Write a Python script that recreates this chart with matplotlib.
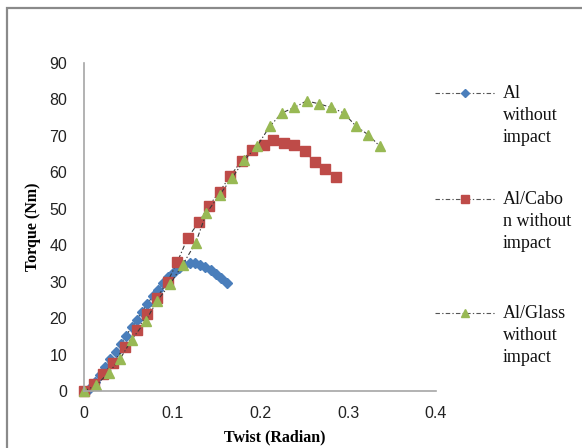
import matplotlib
matplotlib.use("Agg")
import matplotlib.pyplot as plt
from matplotlib.lines import Line2D
from matplotlib.patches import Rectangle

# twist (rad) / torque (Nm) readings for each specimen
al_twist = [0, 0.006, 0.012, 0.018, 0.024, 0.030, 0.036, 0.042, 0.048, 0.054,
            0.060, 0.066, 0.072, 0.078, 0.084, 0.090, 0.096, 0.102, 0.108,
            0.114, 0.120, 0.126, 0.132, 0.138, 0.144, 0.150, 0.156, 0.162]
al_torque = [0, 0.5, 2.5, 4.5, 6.5, 8.7, 10.8, 13.0, 15.2, 17.5,
             19.6, 21.8, 23.9, 26.0, 27.8, 29.5, 31.2, 32.6, 33.8,
             34.6, 35.0, 35.0, 34.7, 34.1, 33.2, 32.2, 31.0, 29.7]

alc_twist = [0, 0.011, 0.022, 0.033, 0.047, 0.060, 0.072, 0.083, 0.095, 0.106,
             0.118, 0.131, 0.142, 0.154, 0.166, 0.179, 0.191, 0.204, 0.215,
             0.227, 0.239, 0.251, 0.262, 0.274, 0.286]
alc_torque = [0, 1.9, 4.6, 7.8, 12.2, 16.7, 21.0, 25.6, 30.0, 35.4,
              42.1, 46.5, 50.8, 54.7, 58.9, 63.2, 66.0, 67.4, 69.0,
              68.1, 67.4, 65.8, 62.9, 60.8, 58.6]

alg_twist = [0, 0.014, 0.028, 0.041, 0.054, 0.070, 0.083, 0.098, 0.112, 0.127,
             0.139, 0.154, 0.168, 0.182, 0.197, 0.211, 0.225, 0.239, 0.253,
             0.267, 0.281, 0.295, 0.309, 0.323, 0.336]
alg_torque = [0, 1.6, 5.0, 8.8, 14.0, 19.2, 24.7, 29.4, 34.6, 40.7,
              48.8, 53.8, 58.4, 63.3, 67.3, 72.6, 76.3, 77.8, 79.6,
              78.8, 77.8, 76.3, 72.7, 70.3, 67.2]

labels = ["Al\nwithout\nimpact", "Al/Cabo\nn without\nimpact", "Al/Glass\nwithout\nimpact"]
colors = ["#4a7ebb", "#be4b48", "#98b954"]
markers = ["D", "s", "^"]
msizes = [4.6, 7.0, 7.6]
dash = (0, (4, 2, 1.2, 2))

W, H = 582, 448
fig = plt.figure(figsize=(W / 100, H / 100), dpi=100)

def px(x, y):
    # pixel (from top-left) -> figure fraction
    return x / W, 1 - y / H

# outer chart frame
fig.add_artist(Rectangle(px(7, 500), 2, (500 - 8) / H, transform=fig.transFigure,
                         fill=False, edgecolor="#8a8a8a", lw=1.6))

ax = fig.add_axes([84 / W, 57 / H, 352 / W, 328 / H])

series = [(al_twist, al_torque), (alc_twist, alc_torque), (alg_twist, alg_torque)]
for (x, y), c, m, ms in zip(series, colors, markers, msizes):
    ax.plot(x, y, linestyle=dash, color="#3a3a3a", lw=0.8, marker=m, ms=ms,
            markerfacecolor=c, markeredgecolor=c, clip_on=False)

ax.set_xlim(0, 0.4)
ax.set_ylim(0, 90)
ax.set_xticks([0, 0.1, 0.2, 0.3, 0.4])
ax.set_xticklabels(["0", "0.1", "0.2", "0.3", "0.4"])
ax.set_yticks(range(0, 91, 10))
for s in ["top", "right"]:
    ax.spines[s].set_visible(False)
for s in ["left", "bottom"]:
    ax.spines[s].set_color("#a6a6a6")
    ax.spines[s].set_linewidth(1.2)
ax.tick_params(length=0, labelsize=11.5, colors="#222222")
ax.tick_params(axis="y", pad=12)
ax.tick_params(axis="x", pad=11)
for t in ax.get_xticklabels() + ax.get_yticklabels():
    t.set_fontfamily("Liberation Sans")

fig.text(*px(275, 437), "Twist (Radian)", ha="center", va="center",
         family="Liberation Serif", weight="bold", fontsize=11.5)
fig.text(*px(33, 227), "Torque (Nm)", ha="center", va="center", rotation=90,
         family="Liberation Serif", weight="bold", fontsize=11.5)

# legend
leg_y = [93, 199, 313]
leg_ms = [3.8, 5.8, 6.0]
for yy, c, m, ms, lab in zip(leg_y, colors, markers, leg_ms, labels):
    x0, y0 = px(435, yy)
    x1, _ = px(495, yy)
    xm, _ = px(465, yy)
    fig.add_artist(Line2D([x0, x1], [y0, y0], transform=fig.transFigure,
                          linestyle=dash, color="#555555", lw=0.8))
    fig.add_artist(Line2D([xm], [y0], transform=fig.transFigure, marker=m, ms=ms,
                          markerfacecolor=c, markeredgecolor=c, linestyle="none"))
    fig.text(*px(503, yy - 8), lab, ha="left", va="top", family="Liberation Serif",
             fontsize=13, linespacing=1.38, color="#111111")

fig.savefig("out.png", dpi=100)
